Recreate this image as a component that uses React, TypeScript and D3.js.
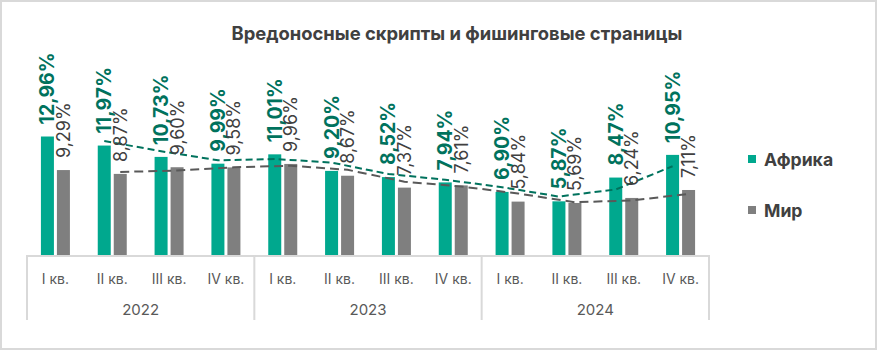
import * as d3 from 'd3';
import { useEffect, useRef } from 'react';

const WIDTH = 878;
const HEIGHT = 351;

const TITLE = 'Вредоносные скрипты и фишинговые страницы';
const SERIES = ['Африка', 'Мир'];
const YEARS = ['2022', '2023', '2024'];
const QUARTERS = ['I кв.', 'II кв.', 'III кв.', 'IV кв.'];

const africa = [12.96, 11.97, 10.73, 9.99, 11.01, 9.2, 8.52, 7.94, 6.9, 5.87, 8.47, 10.95];
const world = [9.29, 8.87, 9.6, 9.58, 9.96, 8.67, 7.37, 7.61, 5.84, 5.69, 6.24, 7.11];

// dashed trend lines (2-period moving average in the source chart), first point empty
const africaTrend = [null, 12.47, 11.35, 10.36, 10.5, 10.11, 8.86, 8.23, 7.42, 6.39, 7.17, 9.71];
const worldTrend = [null, 9.08, 9.24, 9.59, 9.77, 9.32, 8.02, 7.49, 6.73, 5.77, 5.97, 6.68];

const GREEN = '#00a88e';
const GREEN_DARK = '#00725d';
const GREY = '#7f7f7f';
const TEXT = '#404040';
const AXIS = '#d9d9d9';
const FONT = 'Inter, "Noto Sans", sans-serif';

/**
 * @param {number} v
 */
function fmt(v: number) {
    return `${v.toFixed(2).replace('.', ',')}%`;
}

export default function App() {
    const svgRef = useRef<SVGSVGElement | null>(null);

    useEffect(() => {
        if (!svgRef.current) {
            return;
        }
        const svg = d3.select(svgRef.current);
        svg.selectAll('*').remove();

        const margin = { left: 27, right: 709, base: 255 };
        const cats = YEARS.flatMap((y) => QUARTERS.map((q) => `${y}|${q}`));

        const x0 = d3.scaleBand().domain(cats).range([margin.left, margin.right]);
        const groupW = 29;
        const x1 = d3
            .scaleBand()
            .domain(SERIES)
            .range([0, groupW])
            .paddingInner(3 / 16);
        const y = d3.scaleLinear().domain([0, 14]).range([margin.base, 127]);

        const barX = (i: number, s: string) =>
            (x0(cats[i]) ?? 0) + (x0.bandwidth() - groupW) / 2 + (x1(s) ?? 0);
        const barMid = (i: number, s: string) => barX(i, s) + x1.bandwidth() / 2;

        svg.append('rect')
            .attr('x', 1)
            .attr('y', 1)
            .attr('width', WIDTH - 3)
            .attr('height', HEIGHT - 3)
            .attr('fill', '#fff')
            .attr('stroke', AXIS)
            .attr('stroke-width', 2);

        svg.append('text')
            .attr('x', 457)
            .attr('y', 33)
            .attr('text-anchor', 'middle')
            .attr('dominant-baseline', 'central')
            .attr('font-family', FONT)
            .attr('font-size', '18.4px')
            .attr('font-weight', 700)
            .attr('fill', TEXT)
            .text(TITLE);

        const seriesData = [
            { name: SERIES[0], values: africa, trend: africaTrend, color: GREEN },
            { name: SERIES[1], values: world, trend: worldTrend, color: GREY },
        ];

        seriesData.forEach((s) => {
            svg.append('g')
                .selectAll('rect')
                .data(s.values)
                .join('rect')
                .attr('x', (_, i) => barX(i, s.name))
                .attr('y', (d) => y(d))
                .attr('width', x1.bandwidth())
                .attr('height', (d) => margin.base - y(d))
                .attr('fill', s.color);
        });

        // trend lines
        const trendStyle = [
            { color: GREEN_DARK, dash: '7 4' },
            { color: '#595959', dash: '9 5' },
        ];
        seriesData.forEach((s, k) => {
            const line = d3
                .line<number | null>()
                .defined((d) => d !== null)
                .x((_, i) => barMid(i, s.name))
                .y((d) => y(d as number));
            svg.append('path')
                .datum(s.trend)
                .attr('fill', 'none')
                .attr('stroke', trendStyle[k].color)
                .attr('stroke-width', 2)
                .attr('stroke-dasharray', trendStyle[k].dash)
                .attr('d', line);
        });

        // value labels
        seriesData.forEach((s, k) => {
            svg.append('g')
                .selectAll('text')
                .data(s.values)
                .join('text')
                .attr('transform', (d, i) => `translate(${barMid(i, s.name)},${y(d) - 12}) rotate(-90)`)
                .attr('dominant-baseline', 'central')
                .attr('font-family', FONT)
                .attr('font-size', k === 0 ? '19.5px' : '18px')
                .attr('font-weight', k === 0 ? 700 : 400)
                .attr('fill', k === 0 ? GREEN_DARK : TEXT)
                .text((d) => fmt(d));
        });

        // category axis
        const axis = svg.append('g').attr('stroke', AXIS).attr('stroke-width', 2);
        axis.append('line')
            .attr('x1', margin.left)
            .attr('x2', margin.right)
            .attr('y1', margin.base + 1)
            .attr('y2', margin.base + 1);
        const yearW = (margin.right - margin.left) / YEARS.length;
        d3.range(YEARS.length + 1).forEach((j) => {
            const xx = margin.left + j * yearW;
            axis.append('line')
                .attr('x1', xx)
                .attr('x2', xx)
                .attr('y1', margin.base)
                .attr('y2', 320);
        });

        svg.append('g')
            .selectAll('text')
            .data(cats)
            .join('text')
            .attr('x', (d) => (x0(d) ?? 0) + x0.bandwidth() / 2)
            .attr('y', 278)
            .attr('text-anchor', 'middle')
            .attr('dominant-baseline', 'central')
            .attr('font-family', FONT)
            .attr('font-size', '14px')
            .attr('fill', '#595959')
            .text((d) => d.split('|')[1]);

        svg.append('g')
            .selectAll('text')
            .data(YEARS)
            .join('text')
            .attr('x', (_, j) => margin.left + (j + 0.5) * yearW)
            .attr('y', 309)
            .attr('text-anchor', 'middle')
            .attr('dominant-baseline', 'central')
            .attr('font-family', FONT)
            .attr('font-size', '15px')
            .attr('fill', '#595959')
            .text((d) => d);

        // legend
        const legend = svg.append('g');
        seriesData.forEach((s, k) => {
            const ly = 159 + k * 51;
            legend.append('rect')
                .attr('x', 748)
                .attr('y', ly - 4)
                .attr('width', 8)
                .attr('height', 8)
                .attr('fill', s.color);
            legend.append('text')
                .attr('x', 764)
                .attr('y', ly)
                .attr('dominant-baseline', 'central')
                .attr('font-family', FONT)
                .attr('font-size', '17.6px')
                .attr('font-weight', 700)
                .attr('fill', TEXT)
                .text(s.name);
        });
    }, []);

    return (
        <div style={{ position: 'absolute', left: 0, top: 0 }}>
            <svg ref={svgRef} width={WIDTH} height={HEIGHT} style={{ display: 'block' }} />
        </div>
    );
}
